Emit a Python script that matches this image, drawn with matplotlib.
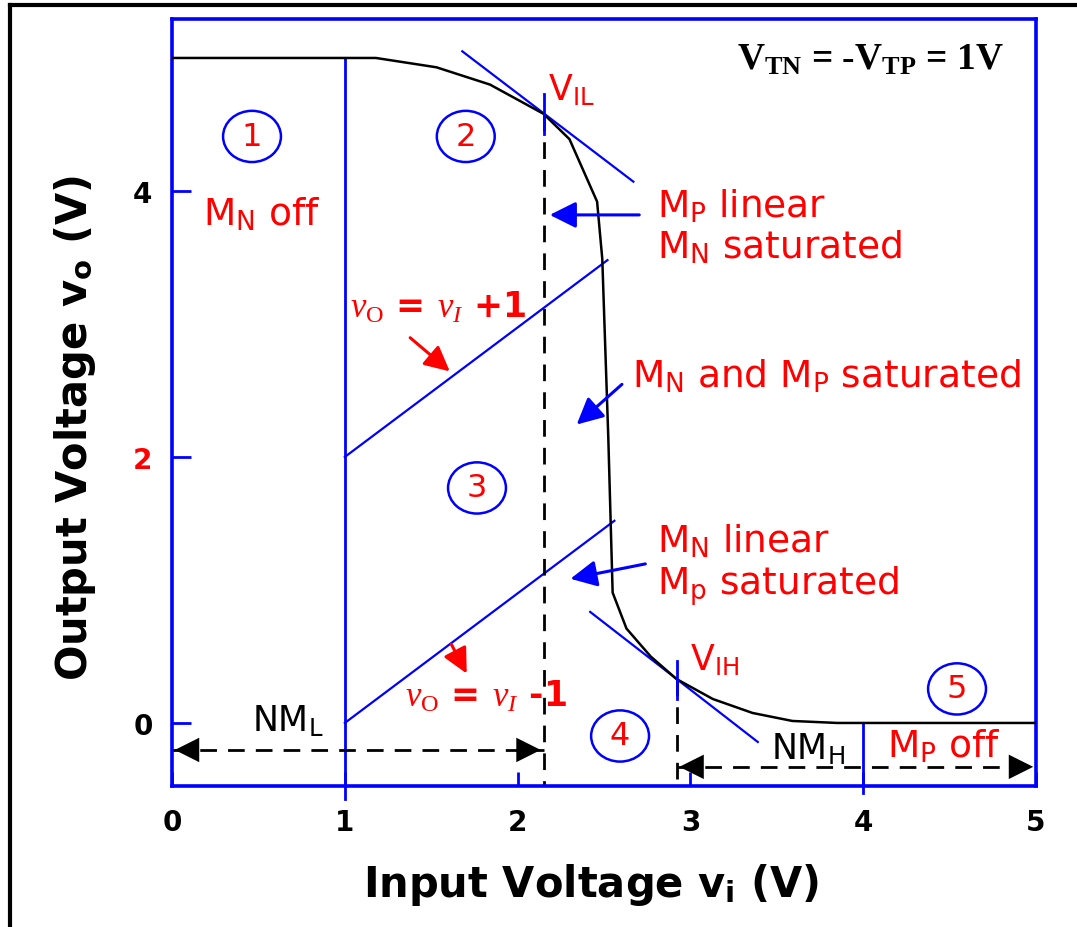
import numpy as np
import matplotlib
matplotlib.use('Agg')
import matplotlib.pyplot as plt
from matplotlib.patches import Ellipse
from matplotlib.lines import Line2D

plt.rcParams['font.family'] = ['DejaVu Sans']
plt.rcParams['mathtext.fontset'] = 'custom'
plt.rcParams['mathtext.rm'] = 'Liberation Serif'
plt.rcParams['mathtext.it'] = 'Liberation Serif:italic'
plt.rcParams['mathtext.sf'] = 'DejaVu Sans'
plt.rcParams['mathtext.bf'] = 'DejaVu Sans:bold'
plt.rcParams['mathtext.tt'] = 'Liberation Serif:bold'

# CMOS inverter VTC
vin = [0.0, 1.0, 1.18, 1.53, 1.84, 2.15, 2.30, 2.46, 2.49, 2.525, 2.55, 2.63, 2.77, 2.92, 3.13, 3.36, 3.59, 3.85, 5.0]
vout = [5.0, 5.0, 5.0, 4.93, 4.80, 4.58, 4.39, 3.92, 3.49, 2.14, 0.98, 0.71, 0.50, 0.33, 0.18, 0.075, 0.015, 0.0, 0.0]

VIL = (2.15, 4.58)
VIH = (2.92, 0.33)
tan_VIL = ([1.68, 2.67], [5.05, 4.07])
tan_VIH = ([2.42, 3.39], [0.835, -0.143])
line_plus1 = ([1.0, 2.52], [2.0, 3.48])
line_minus1 = ([1.0, 2.56], [0.0, 1.52])

xticks = [0, 1, 2, 3, 4, 5]
yticks = [0, 2, 4]
ytick_colors = ['black', 'red', 'black']

# region markers (number, x, y)
regions = [('1', 0.463, 4.41), ('2', 1.70, 4.41), ('3', 1.765, 1.767),
           ('4', 2.593, -0.098), ('5', 4.543, 0.256)]

BLUE = '#0000ff'
RED = '#ff0000'

fig = plt.figure(figsize=(10.77, 9.28), dpi=100)
ax = fig.add_axes([172/1077, 1 - 787/928, 864/1077, 767/928])
ax.set_xlim(0, 5)
ax.set_ylim(-0.474, 5.293)

for s in ax.spines.values():
    s.set_color(BLUE)
    s.set_linewidth(2.6)

ax.set_xticks(xticks)
ax.set_yticks(yticks)
ax.tick_params(axis='both', direction='in', color=BLUE, width=2, labelsize=20)
ax.tick_params(axis='y', length=14, pad=14)
ax.tick_params(axis='x', length=10, pad=16)
for lab in ax.get_xticklabels() + ax.get_yticklabels():
    lab.set_fontweight('bold')
for lab, c in zip(ax.get_yticklabels(), ytick_colors):
    lab.set_color(c)

# curve
ax.plot(vin, vout, color='black', lw=1.8, zorder=3)

# region boundaries at 1 V and 4 V
ax.plot([1, 1], [5.0, -0.57], color=BLUE, lw=2, clip_on=False, zorder=2)
ax.plot([4, 4], [0.0, -0.53], color=BLUE, lw=2, clip_on=False, zorder=2)

# tangent lines and vo = vi +/- 1
ax.plot(*tan_VIL, color=BLUE, lw=1.6)
ax.plot(*tan_VIH, color=BLUE, lw=1.6)
ax.plot(*line_plus1, color=BLUE, lw=1.6)
ax.plot(*line_minus1, color=BLUE, lw=1.6)

# VIL / VIH markers
dash = (0, (6, 4))
ax.plot([VIL[0], VIL[0]], [VIL[1], -0.474], color='black', lw=2, ls=dash)
ax.plot([VIH[0], VIH[0]], [VIH[1], -0.474], color='black', lw=2, ls=dash)
ax.plot([VIL[0], VIL[0]], [4.43, 4.73], color=BLUE, lw=2, zorder=4)
ax.plot([VIH[0], VIH[0]], [0.18, 0.466], color=BLUE, lw=2, zorder=4)
ax.text(2.176, 4.76, r'V$_\mathsf{IL}$', color=RED, fontsize=25, va='center')
ax.text(2.998, 0.48, r'V$_\mathsf{IH}$', color=RED, fontsize=25, va='center')

# noise margin arrows
def dbl_arrow(x0, x1, y):
    ax.plot([x0, x1], [y, y], color='black', lw=2, ls=dash, clip_on=False)
    hp = dict(arrowstyle='-|>', mutation_scale=44, color='black', lw=0)
    ax.annotate('', xy=(x0, y), xytext=(x0 + 0.25, y), arrowprops=hp)
    ax.annotate('', xy=(x1, y), xytext=(x1 - 0.25, y), arrowprops=hp)

dbl_arrow(0.0, VIL[0], -0.203)
dbl_arrow(VIH[0], 5.0, -0.33)
ax.text(0.463, -0.06, r'NM$_\mathsf{L}$', color='black', fontsize=25, va='baseline')
ax.text(3.466, -0.27, r'NM$_\mathsf{H}$', color='black', fontsize=25, va='baseline')

# region numbers
for num, x, y in regions:
    ax.add_patch(Ellipse((x, y), 0.335, 0.385, fill=False, edgecolor=BLUE, lw=1.8))
    ax.text(x, y, num, color=RED, fontsize=23, ha='center', va='center')

# annotations
fs = 27
ax.text(0.18, 3.75, r'M$_\mathsf{N}$ off', color=RED, fontsize=fs, va='baseline')
ax.text(2.807, 3.81, r'M$_\mathsf{P}$ linear', color=RED, fontsize=fs, va='baseline')
ax.text(2.807, 3.50, r'M$_\mathsf{N}$ saturated', color=RED, fontsize=fs, va='baseline')
ax.text(2.662, 2.53, r'M$_\mathsf{N}$ and M$_\mathsf{P}$ saturated', color=RED, fontsize=fs, va='baseline')
ax.text(2.807, 1.29, r'M$_\mathsf{N}$ linear', color=RED, fontsize=fs, va='baseline')
ax.text(2.807, 0.97, r'M$_\mathsf{p}$ saturated', color=RED, fontsize=fs, va='baseline')
ax.text(4.14, -0.256, r'M$_\mathsf{P}$ off', color=RED, fontsize=fs, va='baseline')

ax.text(1.03, 3.05, r'$v_\mathrm{O}$ = $v_I$ +1', color=RED, fontsize=25,
        fontweight='bold', va='baseline')
ax.text(1.348, 0.128, r'$v_\mathrm{O}$ = $v_I$ -1', color=RED, fontsize=25,
        fontweight='bold', va='baseline')

bp = dict(arrowstyle='-|>', mutation_scale=40, color=BLUE, lw=2.2)
ax.annotate('', xy=(2.17, 3.82), xytext=(2.72, 3.82), arrowprops=bp)
ax.annotate('', xy=(2.33, 2.23), xytext=(2.616, 2.56), arrowprops=bp)
ax.annotate('', xy=(2.29, 1.08), xytext=(2.755, 1.20), arrowprops=bp)
rp = dict(arrowstyle='-|>', mutation_scale=38, color=RED, lw=2.2)
ax.annotate('', xy=(1.62, 2.63), xytext=(1.366, 2.91), arrowprops=rp)
ax.annotate('', xy=(1.713, 0.353), xytext=(1.609, 0.61), arrowprops=rp)

ax.text(4.04, 4.99, r'V$_\mathtt{TN}$ = -V$_\mathtt{TP}$ = 1V', fontfamily='Liberation Serif',
        fontweight='bold', fontsize=27, ha='center', va='center')

# axis titles
fig.text(591/1077, 1 - 885/928, r'Input Voltage v$_\mathbf{i}$ (V)', fontsize=30,
         fontweight='bold', ha='center', va='center')
fig.text(75/1077, 1 - 428/928, r'Output Voltage v$_\mathbf{o}$ (V)', fontsize=30,
         fontweight='bold', ha='center', va='center', rotation=90)

# outer frame
fig.add_artist(Line2D([10/1077, 10/1077], [0, 1 - 6/928], color='black', lw=3))
fig.add_artist(Line2D([10/1077, 1], [1 - 6/928, 1 - 6/928], color='black', lw=3))

fig.savefig('out.png', dpi=100)
